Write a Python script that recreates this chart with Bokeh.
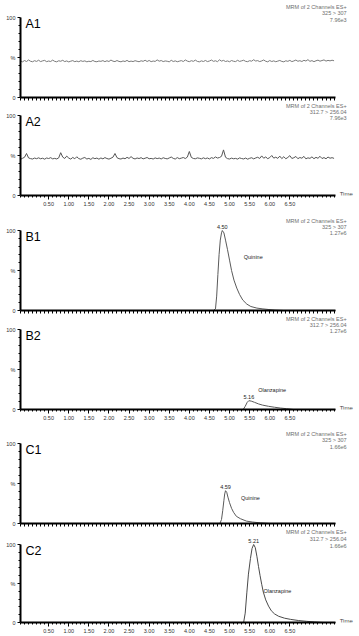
from bokeh.plotting import figure
from bokeh.models import Range1d, FixedTicker, Label
from bokeh.layouts import column
from bokeh.embed import file_html
from bokeh.resources import INLINE

FONT = "Liberation Sans"

# ---------------- data ----------------
time_a = [-0.20, -0.15, -0.10, -0.05, 0.00, 0.05, 0.10, 0.15, 0.20, 0.25,
          0.30, 0.35, 0.40, 0.45, 0.50, 0.55, 0.60, 0.65, 0.70, 0.75,
          0.80, 0.85, 0.90, 0.95, 1.00, 1.05, 1.10, 1.15, 1.20, 1.25,
          1.30, 1.35, 1.40, 1.45, 1.50, 1.55, 1.60, 1.65, 1.70, 1.75,
          1.80, 1.85, 1.90, 1.95, 2.00, 2.05, 2.10, 2.15, 2.20, 2.25,
          2.30, 2.35, 2.40, 2.45, 2.50, 2.55, 2.60, 2.65, 2.70, 2.75,
          2.80, 2.85, 2.90, 2.95, 3.00, 3.05, 3.10, 3.15, 3.20, 3.25,
          3.30, 3.35, 3.40, 3.45, 3.50, 3.55, 3.60, 3.65, 3.70, 3.75,
          3.80, 3.85, 3.90, 3.95, 4.00, 4.05, 4.10, 4.15, 4.20, 4.25,
          4.30, 4.35, 4.40, 4.45, 4.50, 4.55, 4.60, 4.65, 4.70, 4.75,
          4.80, 4.85, 4.90, 4.95, 5.00, 5.05, 5.10, 5.15, 5.20, 5.25,
          5.30, 5.35, 5.40, 5.45, 5.50, 5.55, 5.60, 5.65, 5.70, 5.75,
          5.80, 5.85, 5.90, 5.95, 6.00, 6.05, 6.10, 6.15, 6.20, 6.25,
          6.30, 6.35, 6.40, 6.45, 6.50, 6.55, 6.60, 6.65, 6.70, 6.75,
          6.80, 6.85, 6.90, 6.95, 7.00, 7.05, 7.10, 7.15, 7.20, 7.25,
          7.30, 7.35, 7.40, 7.45, 7.50, 7.55, 7.60]

a1_y = [45.8, 44.6, 46.2, 45.0, 46.9, 45.3, 44.7, 46.0, 45.1, 46.6,
        44.9, 45.8, 46.4, 44.8, 45.6, 45.0, 46.7, 45.2, 44.6, 45.9,
        45.3, 46.5, 44.9, 45.7, 44.5, 45.4, 46.1, 44.8, 45.5, 44.7,
        46.0, 45.1, 45.8, 44.6, 45.3, 44.9, 46.3, 45.0, 44.7, 45.6,
        45.2, 46.1, 44.8, 45.9, 45.0, 46.8, 45.4, 44.9, 46.2, 45.1,
        44.6, 45.7, 45.0, 46.4, 44.8, 45.5, 44.9, 46.0, 45.3, 44.7,
        45.9, 45.2, 46.6, 45.0, 46.3, 44.8, 45.6, 45.1, 47.0, 45.4,
        46.2, 44.9, 45.7, 45.3, 44.6, 46.5, 45.0, 45.8, 44.7, 45.4,
        46.1, 45.0, 46.9, 45.5, 44.8, 46.0, 45.2, 46.7, 45.1, 44.6,
        45.8, 45.0, 46.3, 44.9, 45.6, 46.8, 45.2, 45.9, 44.8, 47.1,
        45.5, 46.4, 45.0, 45.7, 44.7, 46.2, 45.3, 44.9, 46.5, 45.1,
        45.8, 46.6, 45.2, 44.8, 46.0, 45.4, 47.2, 45.6, 46.1, 44.9,
        45.7, 46.9, 45.3, 44.6, 46.2, 45.0, 45.8, 44.7, 45.5, 46.3,
        45.1, 44.6, 45.9, 45.2, 46.4, 44.9, 45.7, 46.8, 45.3, 46.0,
        45.0, 46.5, 45.6, 47.3, 45.2, 46.1, 44.8, 45.9, 46.7, 45.4,
        46.2, 47.0, 45.5, 46.4, 45.8, 46.6, 45.9]

a2_y = [45.2, 46.5, 47.8, 52.5, 47.0, 46.1, 45.6, 46.8, 46.0, 47.1,
        45.9, 46.6, 45.4, 46.9, 46.2, 47.3, 45.8, 46.4, 45.7, 47.0,
        53.5, 48.0, 46.3, 49.2, 46.8, 45.5, 47.6, 45.9, 48.4, 46.1,
        45.3, 46.7, 47.5, 45.6, 46.4, 45.1, 47.2, 46.0, 46.8, 45.4,
        46.9, 45.8, 47.4, 46.2, 45.5, 46.6, 47.9, 52.5, 47.3, 46.0,
        45.6, 46.8, 45.9, 47.7, 46.3, 48.6, 46.5, 45.7, 46.9, 46.2,
        47.3, 45.8, 46.6, 47.5, 45.9, 46.4, 45.6, 47.0, 46.1, 46.8,
        45.7, 47.2, 46.3, 45.8, 46.9, 48.1, 46.4, 45.6, 47.4, 46.0,
        46.7, 47.5, 46.2, 48.0, 55.0, 47.6, 46.3, 45.9, 47.0, 46.5,
        45.8, 47.1, 46.0, 46.9, 45.7, 47.3, 46.4, 48.2, 46.8, 47.5,
        49.0, 57.0, 47.8, 46.1, 45.6, 46.7, 45.9, 46.4, 45.5, 47.0,
        46.2, 45.7, 46.8, 45.4, 46.5, 47.2, 45.8, 46.9, 47.8, 46.3,
        49.5, 46.6, 48.2, 46.0, 47.4, 50.0, 46.7, 47.9, 46.4, 49.2,
        46.1, 48.5, 45.9, 47.6, 49.8, 46.3, 47.2, 48.8, 46.0, 47.5,
        46.6, 48.9, 45.8, 47.1, 46.4, 48.3, 46.0, 47.7, 46.5, 49.0,
        46.2, 47.4, 45.9, 48.1, 46.6, 47.3, 46.4]

b1_t = [-0.2, 4.45, 4.60, 4.65, 4.68, 4.71, 4.74, 4.77, 4.80, 4.82,
        4.86, 4.90, 4.95, 5.00, 5.05, 5.11, 5.18, 5.25, 5.33, 5.43,
        5.53, 5.68, 5.83, 5.98, 6.13, 6.35, 7.64]
b1_y = [0, 0, 0, 2, 18, 45, 70, 88, 97, 100,
        97, 88, 76, 63, 50, 38, 28, 20, 13, 8,
        5, 3, 2, 1.2, 0.5, 0, 0]

b2_t = [-0.2, 5.24, 5.34, 5.39, 5.44, 5.48, 5.54, 5.62, 5.72, 5.82,
        5.97, 6.12, 6.27, 6.42, 6.59, 7.64]
b2_y = [0, 0, 0, 4, 9, 11, 10.5, 9, 7, 5.5,
        4, 2.8, 1.8, 1, 0, 0]

c1_t = [-0.2, 4.64, 4.76, 4.80, 4.83, 4.86, 4.88, 4.90, 4.93, 4.96,
        5.00, 5.05, 5.10, 5.17, 5.27, 5.42, 5.57, 5.77, 5.99, 7.64]
c1_y = [0, 0, 0, 5, 16, 29, 37, 41, 39, 33,
        26, 19, 14, 9, 6, 3, 1.8, 0.8, 0, 0]

c2_t = [-0.2, 5.28, 5.35, 5.39, 5.43, 5.47, 5.52, 5.56, 5.60, 5.64,
        5.68, 5.72, 5.76, 5.80, 5.84, 5.90, 5.97, 6.04, 6.12, 6.22,
        6.37, 6.52, 6.72, 6.92, 7.12, 7.33, 7.64]
c2_y = [0, 0, 0, 12, 38, 62, 82, 95, 100, 96,
        85, 72, 60, 49, 39, 29, 21, 15, 11, 8,
        5.5, 4, 2.5, 1.5, 0.7, 0, 0]

panel_names = ["A1", "A2", "B1", "B2", "C1", "C2"]
header_text = "MRM of 2 Channels ES+"
channels = ["325 > 307", "312.7 > 256.04", "325 > 307", "312.7 > 256.04",
            "325 > 307", "312.7 > 256.04"]
intensities = ["7.96e3", "7.96e3", "1.27e6", "1.27e6", "1.66e6", "1.66e6"]
peak_text = [None, None, "4.50", "5.16", "4.59", "5.21"]
compounds = [None, None, "Quinine", "Olanzapine", "Quinine", "Olanzapine"]
compound_pos = [None, None, (5.59, 67.5), (6.06, 24.0), (5.52, 32.5), (6.19, 40.0)]

x_ticks = [0.5, 1.0, 1.5, 2.0, 2.5, 3.0, 3.5, 4.0, 4.5, 5.0, 5.5, 6.0, 6.5]
x_tick_labels = ["0.50", "1.00", "1.50", "2.00", "2.50", "3.00", "3.50",
                 "4.00", "4.50", "5.00", "5.50", "6.00", "6.50"]
y_ticks = [0, 50, 100]
y_tick_labels = ["0", "%", "100"]

series = [(time_a, a1_y), (time_a, a2_y), (b1_t, b1_y), (b2_t, b2_y),
          (c1_t, c1_y), (c2_t, c2_y)]
line_colors = ["#7a7a7a", "#555555", "#5a5a5a", "#5a5a5a", "#5a5a5a", "#4a4a4a"]

# layout per panel: (px above 100 %, px for 0..100, border bottom, labelled x axis)
layout_spec = [(17, 80, 4, False), (14, 80, 20, True), (15, 80, 4, False),
               (15, 80, 21, True), (13, 80, 4, False), (17, 78, 14, True)]
# header line offsets (px relative to the 100 % line, negative = above)
header_offsets = [(-11, -4.5, 2), (-10, -3.5, 2), (-10, -4, 2),
                  (-11, -4.5, 1.5), (-9.5, -3.5, 3), (-13, -6, 1)]

W = 359
BL = 20
X0, X1 = -0.2, 7.64          # axis extent
PX_PER_MIN = 40.2
X_END = X0 + (W - BL) / PX_PER_MIN   # frame runs to the right edge (room for texts)

minor_x = [round(-0.2 + 0.1 * i, 2) for i in range(79)]
minor_y = [10, 20, 30, 40, 60, 70, 80, 90]

figs = []
for i, name in enumerate(panel_names):
    top, fh, bot, labelled = layout_spec[i]
    upx = 100.0 / fh
    p = figure(width=W, height=top + fh + bot, title=None,
               x_range=Range1d(X0, X_END), y_range=Range1d(0, 100 + top * upx),
               output_backend="svg", toolbar_location=None,
               min_border_left=BL, min_border_right=0,
               min_border_top=0, min_border_bottom=bot)
    p.outline_line_color = None
    p.xgrid.visible = False
    p.ygrid.visible = False
    p.background_fill_color = "white"
    p.border_fill_color = "white"

    t, y = series[i]
    p.line(t, y, line_color=line_colors[i], line_width=1)

    # x axis
    xa = p.xaxis[0]
    xa.bounds = (X0, X1)
    xa.axis_line_width = 2
    xa.axis_line_color = "black"
    xa.major_tick_in = 0
    xa.major_tick_out = 4
    xa.minor_tick_in = 0
    xa.minor_tick_out = 2
    xa.major_tick_line_color = "black"
    xa.minor_tick_line_color = "black"
    if labelled:
        xa.ticker = FixedTicker(ticks=x_ticks, minor_ticks=minor_x)
        xa.major_label_overrides = {v: s for v, s in zip(x_ticks, x_tick_labels)}
        xa.major_label_text_font = FONT
        xa.major_label_text_font_size = "5.5px"
        xa.major_label_text_color = "#333333"
        xa.major_label_standoff = 2
        p.add_layout(Label(x=X1, y=1.2 * upx, x_offset=4, text="Time",
                           text_font=FONT, text_font_size="6px", text_color="#444444",
                           text_align="left", text_baseline="alphabetic"))
    else:
        xa.ticker = FixedTicker(ticks=[], minor_ticks=minor_x)
        xa.minor_tick_out = 3

    # y axis
    ya = p.yaxis[0]
    ya.bounds = (0, 100)
    ya.ticker = FixedTicker(ticks=y_ticks, minor_ticks=minor_y)
    ya.major_label_overrides = {v: s for v, s in zip(y_ticks, y_tick_labels)}
    ya.axis_line_width = 2
    ya.axis_line_color = "black"
    ya.major_tick_in = 0
    ya.major_tick_out = 3
    ya.minor_tick_in = 0
    ya.minor_tick_out = 2
    ya.major_label_standoff = 2
    ya.major_label_text_font = FONT
    ya.major_label_text_font_size = "5.5px"
    ya.major_label_text_color = "#333333"

    # header (three right-aligned lines)
    for txt, off in zip([header_text, channels[i], intensities[i]], header_offsets[i]):
        p.add_layout(Label(x=X1, y=100 - off * upx, x_offset=11, text=txt,
                           text_font=FONT, text_font_size="5.5px", text_color="#6e6e6e",
                           text_align="right", text_baseline="middle"))

    # panel name
    p.add_layout(Label(x=X0, y=100 - 6 * upx, x_offset=5, text=name,
                       text_font=FONT, text_font_size="12.5px", text_color="black",
                       text_align="left", text_baseline="middle"))

    # peak annotations
    if peak_text[i] is not None:
        k = max(range(len(y)), key=lambda j: y[j])
        p.add_layout(Label(x=t[k], y=y[k] + 3.8 * upx, text=peak_text[i],
                           text_font=FONT, text_font_size="5.5px", text_color="#222222",
                           text_align="center", text_baseline="middle"))
        cx, cy = compound_pos[i]
        p.add_layout(Label(x=cx, y=cy, text=compounds[i], text_font=FONT,
                           text_font_size="5.5px", text_color="#222222",
                           text_align="center", text_baseline="middle"))
    figs.append(p)

layout = column(*figs, spacing=0)
open("out.html", "w").write(file_html(layout, INLINE))
